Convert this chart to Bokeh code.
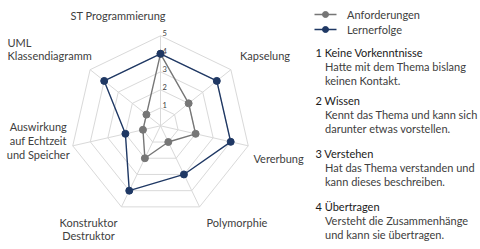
import numpy as np
from bokeh.plotting import figure
from bokeh.models import ColumnDataSource, Range1d
from bokeh.embed import file_html
from bokeh.resources import INLINE
from bokeh.core.properties import value

# ---------------- data ----------------
categories = ["ST Programmierung", "Kapselung", "Vererbung", "Polymorphie",
              "Konstruktor\nDestruktor", "Auswirkung\nauf Echtzeit\nund Speicher",
              "UML\nKlassendiagramm"]
anforderungen = [4, 2, 2, 1, 2, 1, 1]
lernerfolge = [4, 4, 4, 3, 4, 2, 4]
levels = [1, 2, 3, 4, 5]
series_names = ["Anforderungen", "Lernerfolge"]
stufen_titel = ["1 Keine Vorkenntnisse", "2 Wissen", "3 Verstehen", "4 Übertragen"]
stufen_text = [["Hatte mit dem Thema bislang", "keinen Kontakt."],
               ["Kennt das Thema und kann sich", "darunter etwas vorstellen."],
               ["Hat das Thema verstanden und", "kann dieses beschreiben."],
               ["Versteht die Zusammenhänge", "und kann sie übertragen."]]

# ---------------- layout / style ----------------
W, H = 480, 249
CX, CY, UNIT = 160.0, 125.3, 18.0
FONT = value("Lato")
FS = "11px"
GRID = "#d9d9d9"
GRAY = "#767676"
NAVY = "#1f3864"
TXT = "#404040"

def dx(px):
    return (px - CX) / UNIT

def dy(py):
    return (CY - py) / UNIT

# label anchor positions in pixels (x, first-line y, align)
label_pos = [(70, 15, "left"), (239.5, 55, "left"), (253, 158, "left"),
             (206, 222, "left"), (88, 221.5, "center"), (37.7, 126, "center"),
             (7, 41.5, "left")]
LINE_H = 13.8

p = figure(width=W, height=H, output_backend="svg", toolbar_location=None,
           x_range=Range1d(dx(0), dx(W)), y_range=Range1d(dy(H), dy(0)),
           min_border=0, outline_line_color=None)
p.axis.visible = False
p.grid.visible = False
p.background_fill_color = "white"
p.border_fill_color = "white"

n = len(categories)
theta = np.pi / 2 - 2 * np.pi * np.arange(n) / n
cos_t, sin_t = np.cos(theta), np.sin(theta)

# grid polygons
gx = [list(lv * np.append(cos_t, cos_t[0])) for lv in levels]
gy = [list(lv * np.append(sin_t, sin_t[0])) for lv in levels]
p.multi_line(gx, gy, line_color=GRID, line_width=1)
# spokes
rmax = max(levels)
p.multi_line([[0, rmax * c] for c in cos_t], [[0, rmax * s] for s in sin_t],
             line_color=GRID, line_width=1)

# tick labels on the top axis
p.text(x=[0] * len(levels), y=levels, text=[str(l) for l in levels],
       text_font=FONT, text_font_size="7.5px", text_color=TXT,
       text_align="left", text_baseline="middle", x_offset=2, y_offset=-3)

# series
for vals, col in [(anforderungen, GRAY), (lernerfolge, NAVY)]:
    v = np.array(vals, dtype=float)
    xs, ys = v * cos_t, v * sin_t
    p.line(list(np.append(xs, xs[0])), list(np.append(ys, ys[0])),
           line_color=col, line_width=1.4)
    p.scatter(list(xs), list(ys), size=7, fill_color=col, line_color=col)

# category labels
for cat, (px, py, al) in zip(categories, label_pos):
    lines = cat.split("\n")
    p.text(x=[dx(px)] * len(lines), y=[dy(py + i * LINE_H) for i in range(len(lines))],
           text=lines, text_font=FONT, text_font_size=FS, text_color=TXT,
           text_align=al, text_baseline="middle")

# legend (manual)
leg_y = [14, 29]
for name, col, ly in zip(series_names, [GRAY, NAVY], leg_y):
    p.line([dx(314), dx(336)], [dy(ly), dy(ly)], line_color=col, line_width=1.4)
    p.scatter([dx(325)], [dy(ly)], size=6, fill_color=col, line_color=col)
    p.text(x=[dx(346.5)], y=[dy(ly)], text=[name], text_font=FONT,
           text_font_size=FS, text_color=TXT, text_align="left",
           text_baseline="middle")

# level descriptions
block_y = [52, 100, 153, 206]
for titel, txt, by in zip(stufen_titel, stufen_text, block_y):
    p.text(x=[dx(315)], y=[dy(by)], text=[titel], text_font=FONT,
           text_font_size=FS, text_color="#1a1a1a", text_align="left",
           text_baseline="middle")
    p.text(x=[dx(324.5)] * len(txt), y=[dy(by + 14 * (i + 1)) for i in range(len(txt))],
           text=txt, text_font=FONT, text_font_size=FS, text_color=TXT,
           text_align="left", text_baseline="middle")

open("out.html", "w").write(file_html(p, INLINE))
